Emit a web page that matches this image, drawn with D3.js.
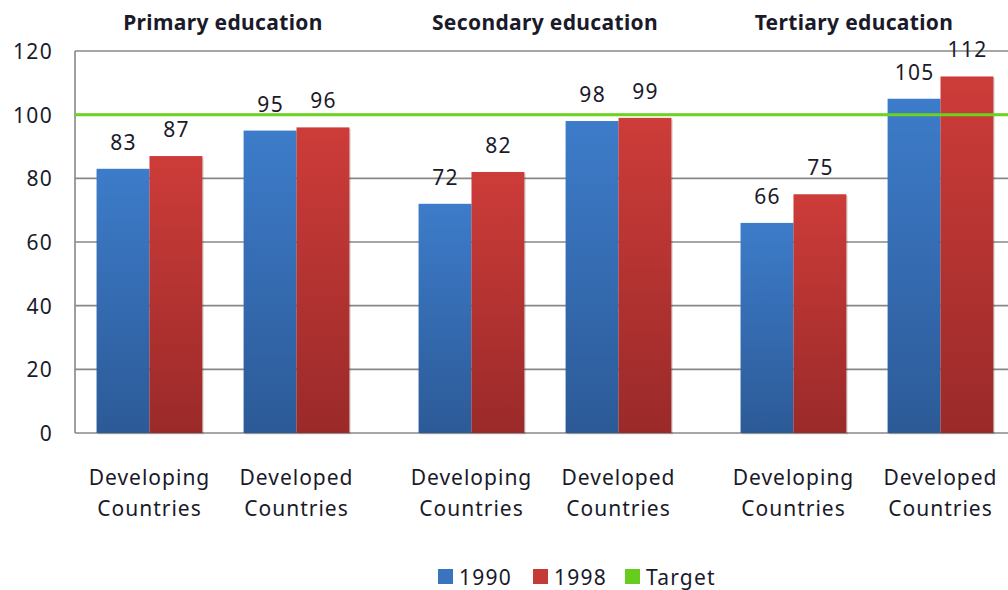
<!DOCTYPE html>
<html><head><meta charset="utf-8">
<script src="https://cdn.jsdelivr.net/npm/d3@7"></script>
<style>
html,body{margin:0;padding:0;background:#fff;}
svg{display:block;}
text{font-family:"Noto Sans","Open Sans",sans-serif;fill:#1a1a2a;}
</style></head><body>
<svg id="chart" width="1008" height="590"></svg>
<script>
const groups = ["Primary education", "Secondary education", "Tertiary education"];
const countryTypes = ["Developing", "Developed"];
const countryLabels = [["Developing", "Countries"], ["Developed", "Countries"]];
const years = ["1990", "1998"];
const values1990 = [83, 95, 72, 98, 66, 105];
const values1998 = [87, 96, 82, 99, 75, 112];
const target = 100;
const yTicks = [0, 20, 40, 60, 80, 100, 120];
const legendItems = ["1990", "1998", "Target"];

const W = 1008, H = 590;
const plotLeft = 75, plotTop = 51, plotBottom = 433;
const svg = d3.select("#chart");

const y = d3.scaleLinear().domain([0, 120]).range([plotBottom, plotTop]);
const xGroup = d3.scaleBand().domain(groups).range([62, 1028]).padding(0);
const xType = d3.scaleBand().domain(countryTypes).range([0, xGroup.bandwidth()]).paddingInner(0.28).paddingOuter(0.235);
const xYear = d3.scaleBand().domain(years).range([0, xType.bandwidth()]).padding(0);

const colors = {
  "1990": ["#3d7cca", "#2c5a97"],
  "1998": ["#cd3c39", "#9a2a29"]
};
const legendColors = {"1990": "#3a74c0", "1998": "#c43a36", "Target": "#66cc1e"};
const targetColor = "#6cd31e";

const defs = svg.append("defs");
years.forEach(yr => {
  const g = defs.append("linearGradient").attr("id", "grad" + yr)
    .attr("x1", 0).attr("y1", 0).attr("x2", 0).attr("y2", 1);
  g.append("stop").attr("offset", "0%").attr("stop-color", colors[yr][0]);
  g.append("stop").attr("offset", "100%").attr("stop-color", colors[yr][1]);
});

// gridlines
svg.append("g").selectAll("line").data(yTicks).join("line")
  .attr("x1", plotLeft).attr("x2", W)
  .attr("y1", d => y(d)).attr("y2", d => y(d))
  .attr("stroke", "#888888").attr("stroke-width", 1.6);
// y axis line
svg.append("line").attr("x1", plotLeft).attr("x2", plotLeft)
  .attr("y1", y(120)).attr("y2", y(0)).attr("stroke", "#888888").attr("stroke-width", 1.6);

// y tick labels via axis
const yAxis = d3.axisLeft(y).tickValues(yTicks).tickSize(0).tickPadding(0);
const yg = svg.append("g").attr("transform", `translate(53,0)`).call(yAxis);
yg.select(".domain").remove();
yg.selectAll("text").attr("font-size", 21).attr("fill", "#1a1a2a").attr("letter-spacing", 1.3)
  .attr("font-family", '"Noto Sans","Open Sans",sans-serif').attr("dy", "0.36em");

// data rows
const rows = [];
groups.forEach((g, gi) => {
  countryTypes.forEach((t, ti) => {
    const i = gi * 2 + ti;
    rows.push({group: g, type: t, year: "1990", value: values1990[i]});
    rows.push({group: g, type: t, year: "1998", value: values1998[i]});
  });
});
const bx = d => xGroup(d.group) + xType(d.type) + xYear(d.year);

// shadow
svg.append("g").selectAll("rect").data(rows).join("rect")
  .attr("x", d => bx(d) + 1.5).attr("y", d => y(d.value) + 1.5)
  .attr("width", xYear.bandwidth()).attr("height", d => y(0) - y(d.value))
  .attr("fill", "#000").attr("opacity", 0.12);

svg.append("g").selectAll("rect").data(rows).join("rect")
  .attr("x", d => bx(d)).attr("y", d => y(d.value))
  .attr("width", xYear.bandwidth()).attr("height", d => y(0) - y(d.value))
  .attr("fill", d => `url(#grad${d.year})`);

// target line
svg.append("line").attr("x1", plotLeft).attr("x2", W)
  .attr("y1", y(target)).attr("y2", y(target))
  .attr("stroke", targetColor).attr("stroke-width", 3);

// value labels
svg.append("g").selectAll("text").data(rows).join("text")
  .attr("x", d => bx(d) + xYear.bandwidth() / 2 + 0.6)
  .attr("y", d => y(d.value) - 19)
  .attr("text-anchor", "middle").attr("font-size", 21).attr("letter-spacing", 1.3)
  .text(d => d.value);

// group titles
svg.append("g").selectAll("text").data(groups).join("text")
  .attr("x", (d, i) => xGroup(d) + xGroup.bandwidth() / 2 - (i === 2 ? 13 : 0))
  .attr("y", 30).attr("text-anchor", "middle")
  .attr("font-size", 21).attr("font-weight", "bold").attr("letter-spacing", 0.35)
  .text(d => d);

// category labels
groups.forEach(g => {
  countryTypes.forEach((t, ti) => {
    const cx = xGroup(g) + xType(t) + xType.bandwidth() / 2;
    const tx = svg.append("text").attr("text-anchor", "middle").attr("font-size", 21).attr("letter-spacing", 1.0);
    countryLabels[ti].forEach((line, li) => {
      tx.append("tspan").attr("x", cx).attr("y", 485 + li * 31).text(line);
    });
  });
});

// legend
const legendX = [438, 533, 625];
const lg = svg.append("g");
legendItems.forEach((item, i) => {
  lg.append("rect").attr("x", legendX[i]).attr("y", 569).attr("width", 15).attr("height", 15)
    .attr("fill", legendColors[item]);
  lg.append("text").attr("x", legendX[i] + 21).attr("y", 585).attr("font-size", 21).attr("letter-spacing", 1.2).text(item);
});
</script>
</body></html>
